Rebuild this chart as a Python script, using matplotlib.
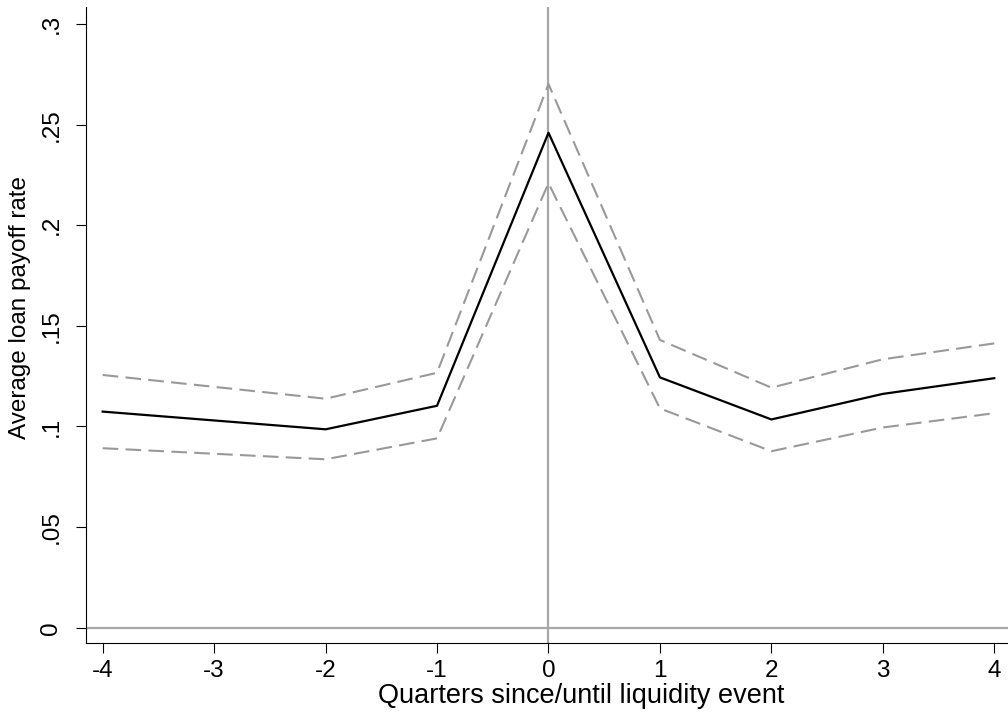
import matplotlib
matplotlib.use("Agg")
import matplotlib.pyplot as plt

plt.rcParams["font.family"] = ["Liberation Sans", "DejaVu Sans"]

# Event-time quarters relative to the liquidity event
quarters = [-4, -2, -1, 0, 1, 2, 3, 4]

# Average payoff rate with 95% confidence band
payoff = [0.1074, 0.0986, 0.1103, 0.2460, 0.1244, 0.1035, 0.1162, 0.1240]
upper = [0.1256, 0.1138, 0.1267, 0.2702, 0.1430, 0.1193, 0.1334, 0.1413]
lower = [0.0892, 0.0837, 0.0941, 0.2209, 0.1090, 0.0877, 0.0995, 0.1066]

xticks = [-4, -3, -2, -1, 0, 1, 2, 3, 4]
yticks = [0, 0.05, 0.1, 0.15, 0.2, 0.25, 0.3]
ytick_labels = ["0", ".05", ".1", ".15", ".2", ".25", ".3"]

fig = plt.figure(figsize=(10.08, 7.19), dpi=100)
ax = fig.add_axes([0.085, 0.1053, 0.915, 0.885])

ref_color = "#a8a8a8"
ax.axhline(0, color=ref_color, lw=1.6, zorder=1)
ax.axvline(0, color=ref_color, lw=1.6, zorder=1)

band_color = "#999999"
ax.plot(quarters, upper, color=band_color, lw=1.5, linestyle=(0, (7.5, 3.5)), zorder=2)
ax.plot(quarters, lower, color=band_color, lw=1.5, linestyle=(0, (7.5, 3.5)), zorder=2)
ax.plot(quarters, payoff, color="black", lw=1.6, zorder=3)

ax.set_xlim(-4.1525, 4.123)
ax.set_ylim(-0.00775, 0.3085)

ax.set_xticks(xticks)
ax.set_xticklabels([str(q) for q in xticks])
ax.set_yticks(yticks)
ax.set_yticklabels(ytick_labels, rotation=90, va="center")

ax.tick_params(axis="both", direction="out", length=7.2, width=0.8, labelsize=17.5)
ax.tick_params(axis="x", pad=4.7)
ax.tick_params(axis="y", pad=9.5)
for side in ["top", "right"]:
    ax.spines[side].set_visible(False)
for side in ["left", "bottom"]:
    ax.spines[side].set_linewidth(0.8)

ax.set_xlabel("Quarters since/until liquidity event", fontsize=19.5)
ax.xaxis.set_label_coords(0.5376, -0.063)
ax.set_ylabel("Average loan payoff rate", fontsize=17.5)
ax.yaxis.set_label_coords(-0.0598, 0.5277)

fig.savefig("out.png", dpi=100)
